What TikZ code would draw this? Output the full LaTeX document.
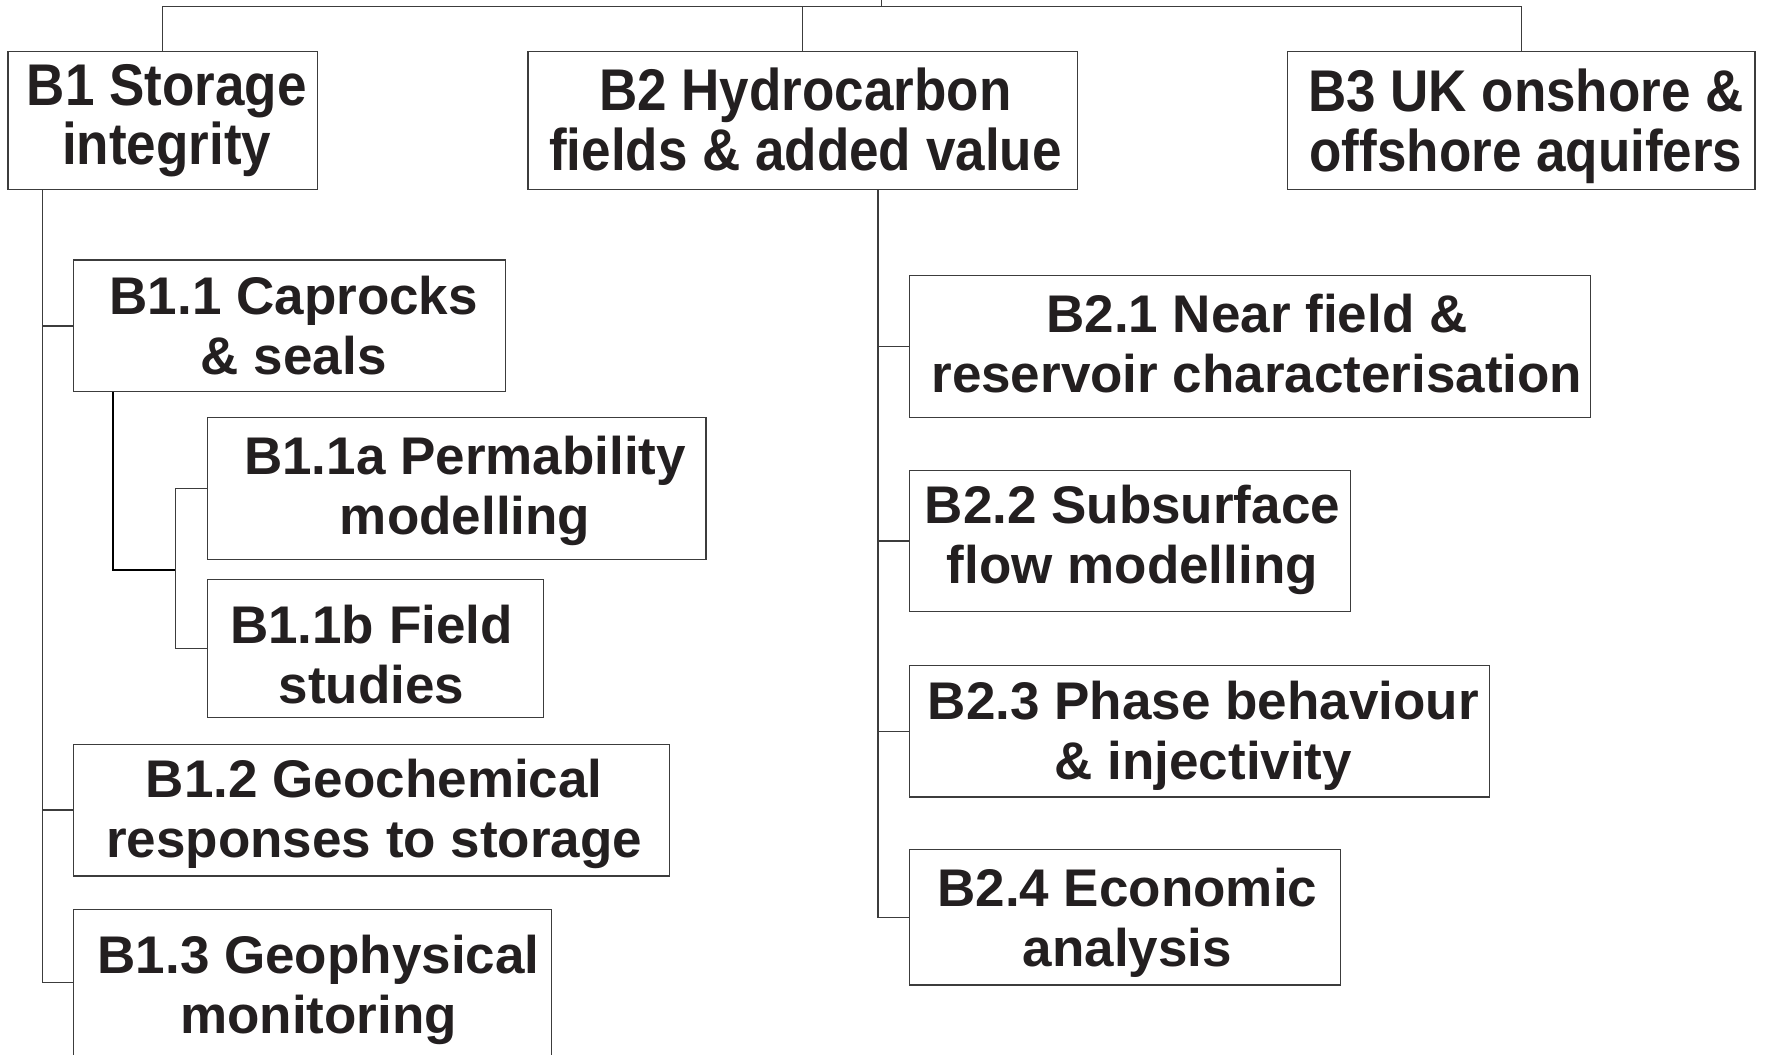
\documentclass[tikz,border=0pt]{standalone}
\usepackage{graphicx}
\usepackage{fontspec}
\setmainfont{Liberation Sans}
\definecolor{txt}{HTML}{231F20}
\definecolor{ln}{HTML}{3C3C3C}
% #1 = 2x horizontal shift, #2 = lowering, #3 = vertical stretch, #4 = baselineskip, #5 = text
\newcommand{\bxt}[5]{\kern#1\raisebox{-#2}[\height][\depth]{\scalebox{1}[#3]{\fontsize{26.5}{#4}\selectfont\begin{tabular}{@{}c@{}}#5\end{tabular}}}}
\tikzset{
  box/.style={draw=ln, line width=0.6pt, fill=white, inner sep=0pt,
    text=txt, font=\bfseries},
  conn/.style={draw=ln, line width=0.6pt},
  thickconn/.style={draw=black, line width=1.1pt}
}
\begin{document}
\begin{tikzpicture}[x=0.5pt,y=-0.5pt]
\useasboundingbox (0,0) rectangle (1765,1054);
\clip (0,0) rectangle (1765,1054);
% top level
\node[box, minimum width=154.8pt, minimum height=68.7pt] (B1) at (162.7,120.5) {\bxt{4pt}{1.25pt}{1.11}{24.8pt}{B1 Storage\\integrity}};
\node[box, minimum width=274.7pt, minimum height=68.7pt] (B2) at (802.6,120.5) {\bxt{2.8pt}{3.45pt}{1.11}{24.8pt}{B2 Hydrocarbon\\fields \& added value}};
\node[box, minimum width=233.6pt, minimum height=68.7pt] (B3) at (1521.4,120.5) {\bxt{4.5pt}{4pt}{1.11}{24.8pt}{B3 UK onshore \&\\offshore aquifers}};
% B1 children
\node[box, minimum width=216.1pt, minimum height=65.9pt] (B11) at (289.3,325.9) {\bxt{4.5pt}{3.1pt}{1}{30pt}{B1.1 Caprocks\\\& seals}};
\node[box, minimum width=249.4pt, minimum height=71.0pt] (B11a) at (456.5,488.5) {\bxt{8.6pt}{2pt}{1}{30pt}{B1.1a Permability\\modelling}};
\node[box, minimum width=168.3pt, minimum height=68.7pt] (B11b) at (375.4,648.4) {\bxt{-4pt}{6.6pt}{1}{30pt}{B1.1b Field\\studies}};
\node[box, minimum width=298.3pt, minimum height=65.9pt] (B12) at (371.5,810.0) {\bxt{2.8pt}{2.55pt}{1}{30pt}{B1.2 Geochemical\\responses to storage}};
\node[box, minimum width=239.2pt, minimum height=73pt] (B13) at (312.4,982.7) {\bxt{6.2pt}{4.25pt}{1}{30pt}{B1.3 Geophysical\\monitoring}};
% B2 children
\node[box, minimum width=340.5pt, minimum height=70.9pt] (B21) at (1250.1,346.7) {\bxt{6.8pt}{1.75pt}{1}{30pt}{B2.1 Near field \&\\reservoir characterisation}};
\node[box, minimum width=220.6pt, minimum height=70.4pt] (B22) at (1130.2,540.9) {\bxt{2.2pt}{0.3pt}{1}{30pt}{B2.2 Subsurface\\flow modelling}};
\node[box, minimum width=289.9pt, minimum height=65.9pt] (B23) at (1199.4,731.1) {\bxt{4pt}{3.1pt}{1}{30pt}{B2.3 Phase behaviour\\\& injectivity}};
\node[box, minimum width=215.6pt, minimum height=67.6pt] (B24) at (1125.1,917.4) {\bxt{2.2pt}{3.65pt}{1}{30pt}{B2.4 Economic\\analysis}};
% coordinates
\coordinate (top) at (881.4,0);
\coordinate (tc) at (881.4,6.75);
\coordinate (t1) at ([xshift=17.45pt]B1.south west);
\coordinate (t11) at ([xshift=20.25pt]B11.south west);
\coordinate (s11) at (175.6,569.6);
\coordinate (t2) at (878.0,189.1);
% connectors
\draw[conn] (top) -- (tc);
\draw[conn] (B1.north) |- (tc) -| (B3.north);
\draw[conn] (B2.north) -- (B2.north |- tc);
\draw[conn] (t1) |- (B13.west);
\draw[conn] (B11.west) -- (B11.west -| t1);
\draw[conn] (B12.west) -- (B12.west -| t1);
\draw[thickconn] (t11) |- (s11);
\draw[conn] (B11a.west) -| (s11) |- (B11b.west);
\draw[conn] (t2) |- (B24.west);
\draw[conn] (B21.west) -- (B21.west -| t2);
\draw[conn] (B22.west) -- (B22.west -| t2);
\draw[conn] (B23.west) -- (B23.west -| t2);
\end{tikzpicture}
\end{document}
